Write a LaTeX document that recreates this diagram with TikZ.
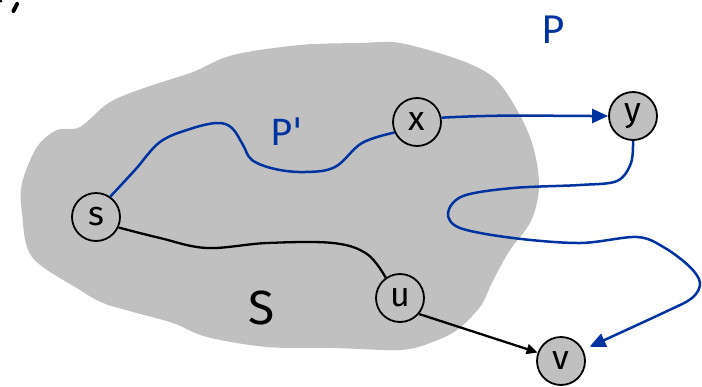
\documentclass[tikz,border=0pt]{standalone}
\usepackage{fontspec}
\setmainfont{Fira Sans}
\newfontfamily\quotefont{DejaVu Sans}
\usetikzlibrary{arrows.meta}
\definecolor{blobgray}{RGB}{192,192,192}
\definecolor{pathblue}{RGB}{0,51,160}
\begin{document}
\begin{tikzpicture}[x=1pt,y=-1pt,
  vtx/.style={circle,draw=black,line width=1.8pt,fill=blobgray,minimum size=48pt,inner sep=0pt,font=\fontsize{34}{34}\selectfont},
  bluepath/.style={draw=pathblue,line width=2.5pt},
  blackpath/.style={draw=black,line width=2.3pt},
  bigtip/.style={-{Triangle[length=16pt,width=14pt]}},
  smalltip/.style={-{Triangle[length=11pt,width=10pt]}},
  lbl/.style={inner sep=0pt}]
\useasboundingbox (0,0) rectangle (702,386);
% blob
\fill[blobgray] plot[smooth cycle,tension=0.55] coordinates {
 (57,130) (80,127) (110,102) (150,86) (193,72) (233,55) (300,45) (360,43) (400,43)
 (460,60) (493,77) (513,103) (530,137) (538,170) (538,197) (530,223) (510,250)
 (497,273) (490,287) (480,307) (457,330) (430,343) (400,350) (333,348) (267,347)
 (207,337) (173,323) (133,312) (103,303) (80,290) (32,257) (22,213) (22,183) (37,147)};
% stray marks top-left
\draw[line width=4pt,line cap=round] (17,4) -- (13.5,11);
\fill (1,1) circle (1.5pt);
% nodes
\node[vtx] (s) at (96,217) {s};
\node[vtx] (x) at (417,122) {x};
\node[vtx] (y) at (633,116) {y};
\node[vtx] (u) at (400,298) {u};
\node[vtx] (v) at (561,361) {v};
% labels
\node[lbl,text=pathblue,font=\fontsize{40}{40}\selectfont] (P) at (553,30) {P};
\node[lbl,text=pathblue,font=\fontsize{38}{38}\selectfont] (Pp) at (287,132) {P{\quotefont\char"0027}};
\node[lbl,font=\fontsize{48}{48}\selectfont] (S) at (262,308) {S};
% paths
\draw[bluepath] plot[smooth,tension=0.6] coordinates {(s.55) (135,170) (160,142) (190,129) (217,123) (232,128) (243,145) (252,160) (275,169) (305,172) (335,167) (362,143) (x.205)};
\draw[bluepath,bigtip] (x.10) to[out=3,in=180] (y.west);
\draw[bluepath,bigtip,shorten >=7pt] plot[smooth,tension=0.55] coordinates {(y.south) (631,163) (617,181) (580,185) (513,188) (463,196) (448,213) (460,228) (513,238) (580,243) (637,237) (665,248) (690,267) (700,283) (692,298) (663,313) (v.27)};
\draw[blackpath] plot[smooth,tension=0.6] coordinates {(s.-25) (160,238) (207,248) (267,243) (333,243) (367,254) (u.125)};
\draw[blackpath,smalltip] (u.-40) -- (v.160);
\end{tikzpicture}
\end{document}
